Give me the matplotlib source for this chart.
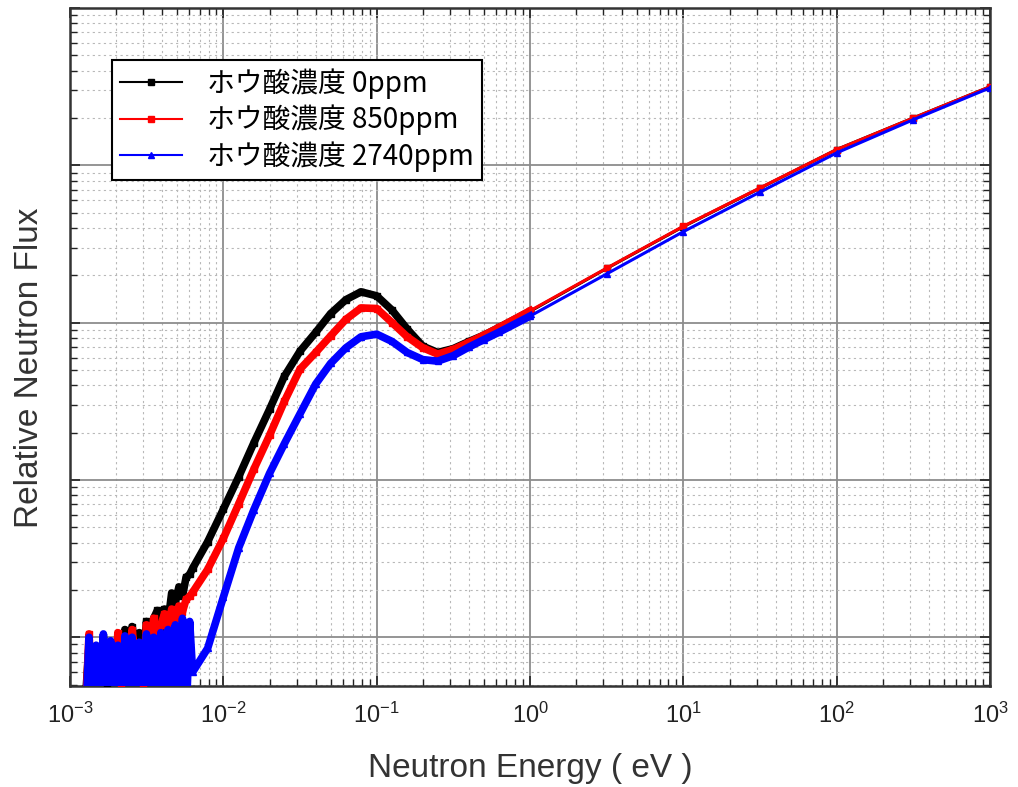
import numpy as np
import matplotlib
matplotlib.use("Agg")
import matplotlib.pyplot as plt
from matplotlib.ticker import LogLocator, NullFormatter, LogFormatterSciNotation, FixedLocator
from matplotlib.lines import Line2D

plt.rcParams['font.family'] = ['Liberation Sans', 'Noto Sans CJK JP', 'DejaVu Sans']

# ------------------------------------------------------------
# Data (energy in eV, flux in relative units)
# ------------------------------------------------------------

# noisy low-energy part
energy_low = [1.26e-3, 1.33e-3, 1.40e-3, 1.48e-3, 1.56e-3, 1.65e-3, 1.74e-3, 1.84e-3,
              1.94e-3, 2.05e-3, 2.16e-3, 2.28e-3, 2.41e-3, 2.54e-3, 2.68e-3, 2.83e-3,
              2.99e-3, 3.15e-3, 3.33e-3, 3.51e-3, 3.71e-3, 3.91e-3, 4.13e-3, 4.36e-3,
              4.60e-3, 4.86e-3, 5.13e-3, 5.41e-3, 5.71e-3, 6.03e-3]

flux_0ppm_low = [4.0e-4, 8.9e-4, 3.2e-4, 7.1e-4, 3.5e-4, 1.0e-3, 5.0e-4, 7.9e-4,
                 4.0e-4, 9.5e-4, 6.3e-4, 1.12e-3, 5.6e-4, 1.17e-3, 7.9e-4, 1.07e-3,
                 6.3e-4, 1.26e-3, 8.9e-4, 1.32e-3, 1.48e-3, 1.12e-3, 1.51e-3, 1.26e-3,
                 1.91e-3, 1.66e-3, 2.09e-3, 1.82e-3, 2.40e-3, 2.51e-3]

flux_850ppm_low = [3.2e-4, 1.05e-3, 4.0e-4, 7.9e-4, 3.2e-4, 8.9e-4, 4.0e-4, 6.3e-4,
                   3.5e-4, 1.07e-3, 5.0e-4, 1.0e-3, 4.5e-4, 1.12e-3, 7.1e-4, 8.9e-4,
                   5.0e-4, 1.20e-3, 7.9e-4, 1.32e-3, 1.0e-3, 1.20e-3, 1.41e-3, 1.12e-3,
                   1.51e-3, 1.32e-3, 1.58e-3, 1.45e-3, 1.74e-3, 1.82e-3]

flux_2740ppm_low = [2.5e-4, 1.0e-3, 2.0e-4, 8.9e-4, 2.5e-4, 1.05e-3, 2.0e-4, 9.5e-4,
                    2.5e-4, 8.9e-4, 2.0e-4, 1.02e-3, 2.5e-4, 1.0e-3, 2.0e-4, 9.3e-4,
                    2.5e-4, 1.05e-3, 2.0e-4, 1.0e-3, 2.5e-4, 1.07e-3, 2.0e-4, 1.12e-3,
                    2.5e-4, 1.20e-3, 2.0e-4, 1.32e-3, 3.0e-4, 1.26e-3]

# smooth part
energy_main = [0.0063, 0.0079, 0.01, 0.0126, 0.0158, 0.02, 0.025, 0.0316, 0.04, 0.05,
               0.063, 0.079, 0.1, 0.126, 0.158, 0.2, 0.25, 0.316, 0.4, 0.5,
               0.63, 1.0, 3.16, 10, 31.6, 100, 316, 1000]

flux_0ppm_main = [2.74e-3, 4.05e-3, 6.52e-3, 1.05e-2, 1.72e-2, 2.81e-2, 4.56e-2, 6.58e-2,
                  8.67e-2, 0.114, 0.140, 0.157, 0.148, 0.120, 0.0912, 0.0708, 0.0646,
                  0.0684, 0.0759, 0.0832, 0.0933, 0.118, 0.221, 0.408, 0.716, 1.26,
                  2.0, 3.16]

flux_850ppm_main = [1.93e-3, 2.70e-3, 4.25e-3, 7.06e-3, 1.17e-2, 1.92e-2, 3.16e-2, 5.06e-2,
                    6.46e-2, 8.22e-2, 0.105, 0.124, 0.123, 0.100, 0.0813, 0.0692, 0.0631,
                    0.0676, 0.0750, 0.0832, 0.0933, 0.119, 0.222, 0.410, 0.719, 1.26,
                    2.0, 3.16]

flux_2740ppm_main = [6.0e-4, 8.51e-4, 1.80e-3, 3.71e-3, 6.46e-3, 1.10e-2, 1.70e-2, 2.63e-2,
                     4.07e-2, 5.50e-2, 6.92e-2, 8.13e-2, 8.45e-2, 7.59e-2, 6.46e-2, 5.82e-2,
                     5.69e-2, 6.17e-2, 7.0e-2, 7.80e-2, 8.71e-2, 0.110, 0.204, 0.379, 0.676,
                     1.20, 1.95, 3.11]

labels = ["ホウ酸濃度 0ppm", "ホウ酸濃度 850ppm", "ホウ酸濃度 2740ppm"]
colors = ["black", "#ff0000", "#0000ff"]
markers = ["s", "s", "^"]
decades = [1e-3, 1e-2, 1e-1, 1e0, 1e1, 1e2, 1e3]


# ------------------------------------------------------------
# Figure
# ------------------------------------------------------------

fig = plt.figure(figsize=(10.18, 7.87), dpi=100)
ax = fig.add_axes([0.0688, 0.1283, 0.9037, 0.8615])

energy = np.array(energy_low + energy_main)
series = [
    np.array(flux_0ppm_low + flux_0ppm_main),
    np.array(flux_850ppm_low + flux_850ppm_main),
    np.array(flux_2740ppm_low + flux_2740ppm_main),
]
thick = energy <= 1.0

for flux, c, m in zip(series, colors, markers):
    ax.plot(energy[thick], flux[thick], color=c, lw=5.5, zorder=3)
    ax.plot(energy, flux, color=c, lw=2.2, marker=m, markersize=4, zorder=3)

ax.set_xscale("log")
ax.set_yscale("log")
ax.set_xlim(1e-3, 1e3)
ax.set_ylim(10 ** -3.31, 10)

ax.xaxis.set_major_locator(FixedLocator(decades))
ax.xaxis.set_minor_locator(LogLocator(base=10, subs=np.arange(2, 10), numticks=100))
ax.yaxis.set_major_locator(LogLocator(base=10, numticks=10))
ax.yaxis.set_minor_locator(LogLocator(base=10, subs=np.arange(2, 10), numticks=100))
ax.xaxis.set_major_formatter(LogFormatterSciNotation())
ax.xaxis.set_minor_formatter(NullFormatter())
ax.yaxis.set_major_formatter(NullFormatter())
ax.yaxis.set_minor_formatter(NullFormatter())

ax.grid(True, which="major", color="#8c8c8c", lw=1.3, zorder=1)
ax.grid(True, which="minor", color="#b8b8b8", lw=0.8, linestyle=(0, (2, 3)), zorder=1)

ax.tick_params(which="both", direction="in", top=True, right=True, color="#222222")
ax.tick_params(which="major", length=7, width=1.2, labelsize=17, pad=12,
               labelcolor="#222222")
ax.tick_params(which="minor", length=5, width=1.0)
for s in ax.spines.values():
    s.set_linewidth(1.8)
    s.set_color("#333333")

ax.set_xlabel("Neutron Energy ( eV )", fontsize=24, color="#333333", labelpad=18)
ax.set_ylabel("Relative Neutron Flux", fontsize=24, color="#333333")
ax.yaxis.set_label_coords(-0.027, 0.47)

handles = [Line2D([], [], color=c, lw=1.5, marker=m, markersize=4)
           for c, m in zip(colors, markers)]
leg = ax.legend(handles, labels, loc="upper left", bbox_to_anchor=(0.0457, 0.923),
                prop={"family": ["Noto Sans CJK JP"], "size": 20},
                frameon=True, fancybox=False, edgecolor="black", framealpha=1,
                handlelength=2.2, handletextpad=0.9, borderpad=0.3,
                labelspacing=0.2, borderaxespad=0)
leg.get_frame().set_linewidth(1.5)
leg.set_zorder(5)

fig.savefig("out.png", dpi=100)
